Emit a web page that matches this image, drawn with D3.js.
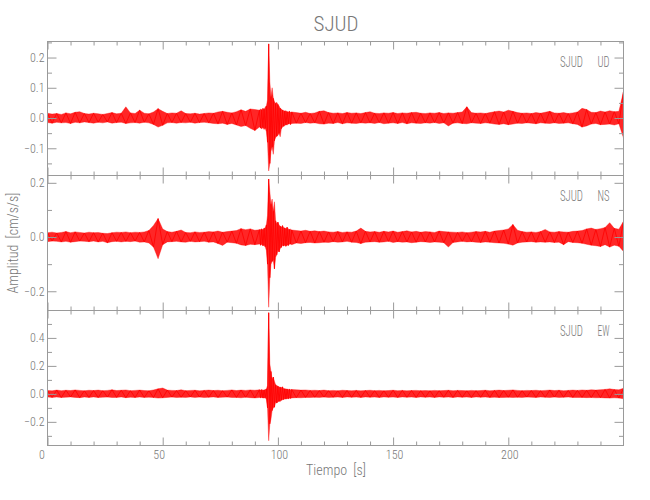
<!DOCTYPE html>
<html><head><meta charset="utf-8">
<script src="https://cdn.jsdelivr.net/npm/d3@7"></script>
<style>
body{margin:0;background:#fff;}
text{font-family:"Roboto Condensed","DejaVu Sans Condensed","Liberation Sans Narrow",sans-serif;font-weight:300;fill:#777;}
</style></head>
<body><svg id="c" width="650" height="500"></svg>
<script>
// ---------- DATA ----------
const TITLE = "SJUD";
const STATION = "SJUD";
const COMPONENTS = ["UD", "NS", "EW"];
const X_LABEL = "Tiempo  [s]";
const Y_LABEL = "Amplitud  [cm/s/s]";
const X_DOMAIN = [0, 250];
const X_MAJOR = [0, 50, 100, 150, 200];
const X_MINOR = [10,20,30,40,60,70,80,90,110,120,130,140,160,170,180,190,210,220,230,240];

const UD_DOMAIN = [-0.190, 0.253];
const NS_DOMAIN = [-0.271, 0.227];
const EW_DOMAIN = [-0.369, 0.596];
const UD_MAJOR = [-0.1, 0.0, 0.1, 0.2];
const UD_MINOR = [-0.15, -0.05, 0.05, 0.15, 0.25];
const NS_MAJOR = [-0.2, 0.0, 0.2];
const NS_MINOR = [-0.1, 0.1];
const EW_MAJOR = [-0.2, 0.0, 0.2, 0.4];
const EW_MINOR = [-0.3, -0.1, 0.1, 0.3, 0.5];

// sample times (s)
const T = [0,2,4,6,8,10,12,14,16,18,
20,22,24,26,28,30,32,34,36,38,
40,42,44,46,48,50,52,54,56,58,
60,62,64,66,68,70,72,74,76,78,
80,82,84,86,88,90,92,
92.5,93,93.5,94,94.5,95,95.5,96,96.5,97,
97.5,98,98.5,99,99.5,100,100.5,101,101.5,102,
102.5,103,103.5,104,104.5,105,105.5,106,
108,110,112,114,116,118,120,122,124,126,
128,130,132,134,136,138,140,142,144,146,
148,150,152,154,156,158,160,162,164,166,
168,170,172,174,176,178,180,182,184,186,
188,190,192,194,196,198,200,202,204,206,
208,210,212,214,216,218,220,222,224,226,
228,230,232,234,236,238,240,242,244,246,
248,250];

// upper / lower envelope of each trace (cm/s/s)
const UD_MAX = [.016,.013,.015,.012,.017,.014,.019,.021,.015,.013,
.016,.014,.012,.015,.018,.014,.016,.037,.017,.015,
.026,.016,.014,.020,.031,.022,.015,.017,.016,.024,
.015,.014,.016,.013,.015,.017,.016,.020,.022,.019,
.017,.021,.027,.022,.030,.028,.026,
.030,.027,.033,.029,.036,.040,.060,.245,.120,.070,
.100,.065,.055,.048,.052,.045,.040,.032,.030,.026,
.025,.023,.024,.021,.020,.022,.019,.020,
.018,.016,.019,.015,.017,.022,.024,.018,.016,.017,
.015,.018,.016,.017,.015,.018,.021,.016,.015,.017,
.016,.018,.015,.017,.016,.018,.019,.016,.015,.017,
.016,.018,.015,.017,.016,.018,.020,.037,.018,.016,
.017,.015,.018,.021,.023,.020,.026,.022,.018,.016,
.017,.015,.018,.016,.019,.022,.017,.016,.018,.015,
.017,.020,.032,.028,.019,.018,.023,.020,.024,.021,
.022,.088];
const UD_MIN = [-.015,-.017,-.014,-.016,-.015,-.018,-.014,-.016,-.013,-.015,
-.017,-.014,-.016,-.013,-.017,-.015,-.014,-.018,-.016,-.015,
-.017,-.014,-.016,-.021,-.030,-.024,-.016,-.015,-.017,-.015,
-.016,-.014,-.017,-.015,-.014,-.016,-.018,-.019,-.017,-.021,
-.018,-.023,-.028,-.025,-.034,-.041,-.030,
-.033,-.036,-.031,-.038,-.034,-.045,-.080,-.175,-.150,-.110,
-.095,-.120,-.075,-.065,-.060,-.058,-.050,-.062,-.035,-.030,
-.027,-.025,-.022,-.023,-.020,-.019,-.021,-.018,
-.017,-.018,-.015,-.017,-.016,-.019,-.020,-.017,-.018,-.015,
-.019,-.016,-.017,-.018,-.016,-.017,-.016,-.018,-.015,-.019,
-.017,-.016,-.018,-.015,-.019,-.016,-.017,-.018,-.016,-.017,
-.015,-.018,-.016,-.026,-.017,-.016,-.018,-.019,-.016,-.017,
-.018,-.016,-.017,-.020,-.021,-.019,-.022,-.020,-.017,-.018,
-.016,-.017,-.019,-.016,-.017,-.018,-.016,-.018,-.017,-.016,
-.019,-.021,-.030,-.026,-.020,-.018,-.022,-.021,-.020,-.023,
-.019,-.066];

const NS_MAX = [.016,.018,.015,.017,.020,.016,.019,.017,.015,.018,
.016,.017,.014,.013,.016,.018,.017,.019,.016,.018,
.017,.019,.024,.043,.068,.030,.020,.018,.021,.026,
.017,.016,.019,.017,.018,.020,.019,.022,.018,.020,
.022,.024,.031,.027,.030,.025,.027,
.028,.030,.026,.032,.034,.045,.080,.214,.167,.120,
.140,.095,.130,.060,.050,.055,.045,.040,.037,.042,
.035,.033,.031,.036,.030,.028,.029,.026,
.024,.022,.025,.021,.023,.020,.022,.019,.018,.020,
.017,.019,.018,.022,.033,.021,.019,.020,.018,.021,
.019,.022,.018,.020,.023,.019,.021,.018,.020,.019,
.017,.022,.020,.019,.018,.017,.019,.016,.018,.020,
.019,.021,.018,.022,.024,.026,.030,.046,.025,.020,
.018,.019,.017,.020,.028,.019,.018,.020,.019,.018,
.021,.022,.024,.030,.033,.028,.031,.035,.053,.032,
.029,.058];
const NS_MIN = [-.017,-.015,-.016,-.018,-.016,-.019,-.017,-.015,-.016,-.017,
-.015,-.018,-.016,-.021,-.017,-.016,-.018,-.016,-.017,-.015,
-.019,-.018,-.022,-.037,-.080,-.028,-.018,-.017,-.016,-.018,
-.019,-.016,-.018,-.017,-.016,-.019,-.018,-.024,-.031,-.019,
-.021,-.023,-.029,-.031,-.027,-.028,-.026,
-.030,-.027,-.032,-.029,-.036,-.050,-.100,-.259,-.150,-.100,
-.090,-.085,-.117,-.075,-.065,-.048,-.055,-.042,-.038,-.031,
-.033,-.030,-.034,-.029,-.031,-.027,-.026,-.028,
-.022,-.024,-.021,-.020,-.022,-.021,-.019,-.020,-.017,-.019,
-.018,-.016,-.019,-.020,-.024,-.019,-.018,-.017,-.019,-.018,
-.016,-.020,-.017,-.019,-.018,-.021,-.019,-.017,-.018,-.020,
-.018,-.019,-.021,-.037,-.020,-.018,-.016,-.018,-.017,-.019,
-.020,-.018,-.019,-.021,-.022,-.023,-.026,-.030,-.022,-.019,
-.018,-.017,-.019,-.018,-.019,-.018,-.020,-.019,-.028,-.017,
-.020,-.021,-.023,-.027,-.030,-.032,-.035,-.028,-.037,-.030,
-.034,-.053];

const EW_MAX = [.025,.022,.027,.023,.026,.024,.028,.025,.022,.026,
.024,.027,.023,.025,.029,.024,.026,.028,.023,.025,
.027,.024,.022,.028,.036,.042,.027,.025,.024,.029,
.023,.025,.026,.022,.025,.027,.024,.026,.023,.025,
.028,.024,.027,.025,.028,.026,.029,
.027,.030,.026,.028,.031,.035,.060,.580,.214,.160,
.107,.120,.090,.065,.060,.055,.050,.048,.045,.050,
.038,.036,.035,.034,.032,.033,.030,.031,
.029,.027,.028,.025,.026,.024,.027,.023,.025,.022,
.026,.024,.023,.025,.022,.024,.026,.023,.025,.022,
.024,.026,.023,.025,.022,.024,.025,.023,.024,.022,
.025,.023,.024,.026,.023,.025,.024,.022,.025,.023,
.024,.026,.023,.025,.027,.024,.026,.028,.025,.023,
.025,.024,.026,.023,.025,.027,.024,.026,.023,.025,
.027,.025,.028,.026,.029,.027,.030,.032,.036,.031,
.029,.040];
const EW_MIN = [-.022,-.025,-.023,-.026,-.024,-.022,-.025,-.027,-.023,-.025,
-.022,-.026,-.024,-.023,-.026,-.025,-.022,-.027,-.024,-.026,
-.023,-.025,-.024,-.026,-.030,-.028,-.025,-.023,-.026,-.024,
-.025,-.022,-.025,-.023,-.026,-.024,-.022,-.025,-.024,-.023,
-.026,-.025,-.028,-.024,-.027,-.029,-.026,
-.028,-.026,-.029,-.030,-.027,-.040,-.100,-.335,-.214,-.180,
-.119,-.100,-.095,-.060,-.065,-.058,-.052,-.055,-.045,-.042,
-.040,-.035,-.037,-.033,-.035,-.031,-.032,-.029,
-.027,-.028,-.025,-.026,-.024,-.025,-.023,-.025,-.024,-.023,
-.025,-.022,-.024,-.023,-.025,-.022,-.024,-.023,-.025,-.022,
-.024,-.023,-.025,-.022,-.024,-.023,-.025,-.022,-.024,-.023,
-.025,-.022,-.024,-.023,-.025,-.022,-.024,-.023,-.025,-.022,
-.024,-.023,-.025,-.024,-.026,-.025,-.024,-.026,-.024,-.025,
-.023,-.024,-.025,-.023,-.024,-.026,-.023,-.025,-.024,-.023,
-.025,-.026,-.025,-.027,-.026,-.028,-.027,-.029,-.030,-.028,
-.030,-.035];

// ---------- DRAW ----------
const svg = d3.select("#c");
const AXIS = "#9a9a9a", RED = "#ff0000";
const L = 47.5, R = 623.5;
const x = d3.scaleLinear().domain(X_DOMAIN).range([L, R]);

const panels = [
  {comp: COMPONENTS[0], top: 41.5, bottom: 175.5, dom: UD_DOMAIN, major: UD_MAJOR, minor: UD_MINOR, up: UD_MAX, lo: UD_MIN},
  {comp: COMPONENTS[1], top: 175.5, bottom: 310.5, dom: NS_DOMAIN, major: NS_MAJOR, minor: NS_MINOR, up: NS_MAX, lo: NS_MIN},
  {comp: COMPONENTS[2], top: 310.5, bottom: 445.5, dom: EW_DOMAIN, major: EW_MAJOR, minor: EW_MINOR, up: EW_MAX, lo: EW_MIN}
];

const fmt = d3.format(".1f");

panels.forEach((p, k) => {
  const y = d3.scaleLinear().domain(p.dom).range([p.bottom, p.top]);
  const n = Math.min(T.length, p.up.length, p.lo.length);
  const idx = d3.range(n);

  const clipId = "clip" + k;
  svg.append("clipPath").attr("id", clipId).append("rect")
    .attr("x", L).attr("y", p.top).attr("width", R - L).attr("height", p.bottom - p.top);

  const g = svg.append("g").attr("clip-path", `url(#${clipId})`);
  const area = d3.area().x(i => x(T[i])).y0(i => y(p.lo[i])).y1(i => y(p.up[i]));
  g.append("path").datum(idx).attr("d", area)
    .attr("fill", RED).attr("fill-opacity", 0.85)
    .attr("stroke", RED).attr("stroke-opacity", 0.45).attr("stroke-width", 0.8);
  const zig = d3.line().x(i => x(T[i])).y(i => y(i % 2 ? p.lo[i] : p.up[i]));
  g.append("path").datum(idx).attr("d", zig)
    .attr("fill", "none").attr("stroke", RED).attr("stroke-width", 0.8);

  const addAxis = (axis, tx, ty) => {
    const a = svg.append("g").attr("transform", `translate(${tx},${ty})`).call(axis);
    a.select(".domain").remove();
    a.selectAll("line").attr("stroke", AXIS);
    a.selectAll("text").attr("fill", "#777").style("font-size", "12px")
      .style("font-family", null);
    return a;
  };
  // y axes
  addAxis(d3.axisLeft(y).tickValues(p.major).tickSize(-9).tickPadding(3).tickFormat(fmt), L, 0);
  addAxis(d3.axisLeft(y).tickValues(p.minor).tickSize(-4.5).tickFormat(""), L, 0);
  addAxis(d3.axisRight(y).tickValues(p.major).tickSize(-9).tickFormat(""), R, 0);
  addAxis(d3.axisRight(y).tickValues(p.minor).tickSize(-4.5).tickFormat(""), R, 0);
  // x axes
  addAxis(d3.axisTop(x).tickValues(X_MAJOR).tickSize(-8).tickFormat(""), 0, p.top);
  addAxis(d3.axisTop(x).tickValues(X_MINOR).tickSize(-4).tickFormat(""), 0, p.top);
  const last = k === panels.length - 1;
  const bx = addAxis(d3.axisBottom(x).tickValues(X_MAJOR).tickSize(-8).tickPadding(4.5)
      .tickFormat(last ? d3.format("d") : ""), 0, p.bottom);
  if (last) bx.selectAll("text").attr("dx", d => d === 0 ? -6 : (d < 100 ? -4 : 1));
  addAxis(d3.axisBottom(x).tickValues(X_MINOR).tickSize(-4).tickFormat(""), 0, p.bottom);

  // frame
  svg.append("rect").attr("x", L).attr("y", p.top).attr("width", R - L).attr("height", p.bottom - p.top)
    .attr("fill", "none").attr("stroke", AXIS).attr("stroke-width", 1);

  // station / component label
  svg.append("text").attr("x", 560).attr("y", p.top + 25).style("font-size", "14px")
    .attr("textLength", 23).attr("lengthAdjust", "spacingAndGlyphs").text(STATION);
  svg.append("text").attr("x", 597.5).attr("y", p.top + 25)
    .style("font-size", "14px").attr("textLength", 12).attr("lengthAdjust", "spacingAndGlyphs").text(p.comp);
});

svg.append("text").attr("x", 336).attr("y", 31).attr("text-anchor", "middle")
  .style("font-size", "21px").text(TITLE);
svg.append("text").attr("x", 336).attr("y", 475).attr("text-anchor", "middle")
  .style("font-size", "14px").style("white-space", "pre").text(X_LABEL);
svg.append("text").attr("transform", "translate(18,243) rotate(-90)").attr("text-anchor", "middle")
  .style("font-size", "14px").style("white-space", "pre").text(Y_LABEL);
</script></body></html>
